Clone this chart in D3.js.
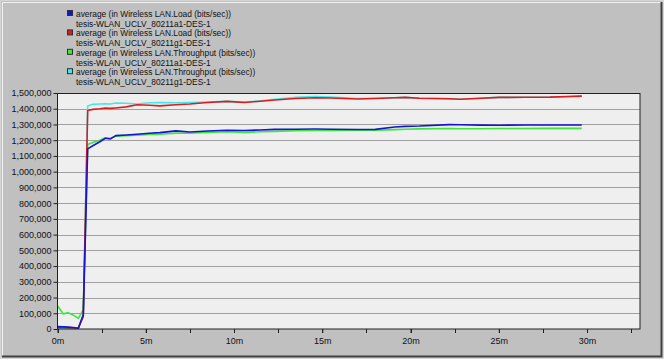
<!DOCTYPE html>
<html><head><meta charset="utf-8">
<script src="https://cdn.jsdelivr.net/npm/d3@7"></script>
<style>body{margin:0;background:#c0c0c0;}svg{display:block;font-family:"Liberation Sans",Arial,sans-serif;}</style>
</head><body>
<script>
// time in minutes
const times = [0,0.33,0.6,0.9,1.18,1.46,1.71,2.0,2.4,2.7,3.0,3.3,3.9,4.5,5.2,5.8,6.7,7.5,8.5,9.6,10.6,11.5,12.3,13.5,14.6,15.5,17,18,19.1,19.7,20.5,22.2,22.8,24,25,26.5,27.9,29,29.7];
const loadA1 = [15000,14000,12000,10000,5000,89000,1145000,1165000,1190000,1212000,1208000,1229000,1233000,1238000,1244000,1248000,1259000,1252000,1258000,1263000,1262000,1265000,1269000,1270000,1271000,1270000,1268000,1269000,1284000,1288000,1290000,1299000,1298000,1296000,1295000,1297000,1297000,1297000,1297000];
const loadG1 = [10000,10000,9000,8000,5000,80000,1389000,1396000,1400000,1405000,1402000,1405000,1412000,1425000,1422000,1418000,1425000,1430000,1440000,1447000,1440000,1448000,1456000,1465000,1470000,1468000,1462000,1465000,1470000,1472000,1467000,1463000,1460000,1467000,1472000,1473000,1474000,1478000,1480000];
const thrA1 = [148000,95000,104000,88000,68000,121000,1172000,1185000,1200000,1215000,1212000,1225000,1228000,1232000,1236000,1238000,1245000,1244000,1250000,1254000,1250000,1254000,1256000,1260000,1262000,1262000,1263000,1264000,1267000,1270000,1272000,1274000,1273000,1273000,1274000,1274000,1275000,1275000,1275000];
const thrG1 = [5000,5000,5000,5000,5000,95000,1418000,1428000,1430000,1432000,1430000,1436000,1435000,1430000,1438000,1440000,1438000,1440000,1443000,1447000,1442000,1450000,1460000,1472000,1478000,1475000,1465000,1467000,1470000,1472000,1467000,1463000,1460000,1467000,1472000,1473000,1474000,1478000,1480000];
const yTicks = [0,100000,200000,300000,400000,500000,600000,700000,800000,900000,1000000,1100000,1200000,1300000,1400000,1500000];
const xTicks = [0,5,10,15,20,25,30];
const legendLines = [
  ["average (in Wireless LAN.Load (bits/sec))","tesis-WLAN_UCLV_80211a1-DES-1"],
  ["average (in Wireless LAN.Load (bits/sec))","tesis-WLAN_UCLV_80211g1-DES-1"],
  ["average (in Wireless LAN.Throughput (bits/sec))","tesis-WLAN_UCLV_80211a1-DES-1"],
  ["average (in Wireless LAN.Throughput (bits/sec))","tesis-WLAN_UCLV_80211g1-DES-1"]
];
const colors = ["#1414d2","#de1c1c","#3ce63c","#40eaea"];
const seriesList = [loadA1, loadG1, thrA1, thrG1];

const W = 664, H = 359;
const svg = d3.select("body").append("svg").attr("width", W).attr("height", H);
svg.append("rect").attr("width", W).attr("height", H).attr("fill", "#d6d6d6");
svg.append("rect").attr("x",1).attr("y",1).attr("width",661).attr("height",356).attr("fill","#c0c0c0");
// 3D frame
svg.append("path").attr("d","M2.5,356V2.5H661").attr("stroke","#f2f2f2").attr("fill","none");
svg.append("path").attr("d","M2,356.5H661.5V2").attr("stroke","#404040").attr("stroke-width",2).attr("fill","none");

const x = d3.scaleLinear().domain([0,33]).range([57.5,640]);
const y = d3.scaleLinear().domain([0,1500000]).range([329,93]);

// plot area
svg.append("rect").attr("x",57.5).attr("y",93).attr("width",640-57.5).attr("height",329-93).attr("fill","#efefef");
// gridlines
svg.append("g").selectAll("line").data(yTicks.slice(1,-1)).join("line")
  .attr("x1",57.5).attr("x2",640).attr("y1",d=>Math.round(y(d))+0.5).attr("y2",d=>Math.round(y(d))+0.5)
  .attr("stroke","#a0a0a0").attr("stroke-width",1);

// lines
const order = [3,2,1,0];
const line = d3.line().x((d,i)=>x(times[i])).y(d=>y(d));
order.forEach(k=>{
  svg.append("path").datum(seriesList[k]).attr("d",line).attr("fill","none")
    .attr("stroke",colors[k]).attr("stroke-width",1.6).attr("stroke-linejoin","round");
});

// border
svg.append("rect").attr("x",57.5).attr("y",93.5).attr("width",640-57.5).attr("height",329-93.5).attr("fill","none").attr("stroke","#202020");

// axes
const yAxis = d3.axisLeft(y).tickValues(yTicks).tickFormat(d3.format(",")).tickSize(4).tickPadding(2);
const gy = svg.append("g").attr("transform","translate(57.5,0)").call(yAxis);
gy.select(".domain").remove();
gy.selectAll("text").attr("font-size","9px").attr("fill","#111").attr("font-family","'Liberation Sans',Arial,sans-serif");
gy.selectAll("line").attr("stroke","#202020");

const minor = d3.range(0, 33, 2.5);
svg.append("g").selectAll("line").data(minor).join("line")
  .attr("x1",d=>Math.round(x(d))+0.5).attr("x2",d=>Math.round(x(d))+0.5).attr("y1",329).attr("y2",333).attr("stroke","#202020");
const xAxis = d3.axisBottom(x).tickValues(xTicks).tickFormat(d=>d+"m").tickSize(4).tickPadding(5);
const gx = svg.append("g").attr("transform","translate(0,329)").call(xAxis);
gx.select(".domain").remove();
gx.selectAll("text").attr("font-size","9px").attr("fill","#111").attr("font-family","'Liberation Sans',Arial,sans-serif");
gx.selectAll("line").attr("stroke","#202020");

// legend
const lg = svg.append("g");
legendLines.forEach((pair,i)=>{
  const base = 17 + i*2*9.7;
  lg.append("rect").attr("x",67.5).attr("y",base-6.5).attr("width",5).attr("height",5)
    .attr("fill",colors[i]).attr("stroke","#303030").attr("stroke-width",1);
  lg.append("text").attr("x",76).attr("y",base).attr("font-size","8.4px").attr("fill","#111").text(pair[0]);
  lg.append("text").attr("x",76).attr("y",base+9.7).attr("font-size","8.4px").attr("fill","#111").text(pair[1]);
});
</script>
</body></html>
